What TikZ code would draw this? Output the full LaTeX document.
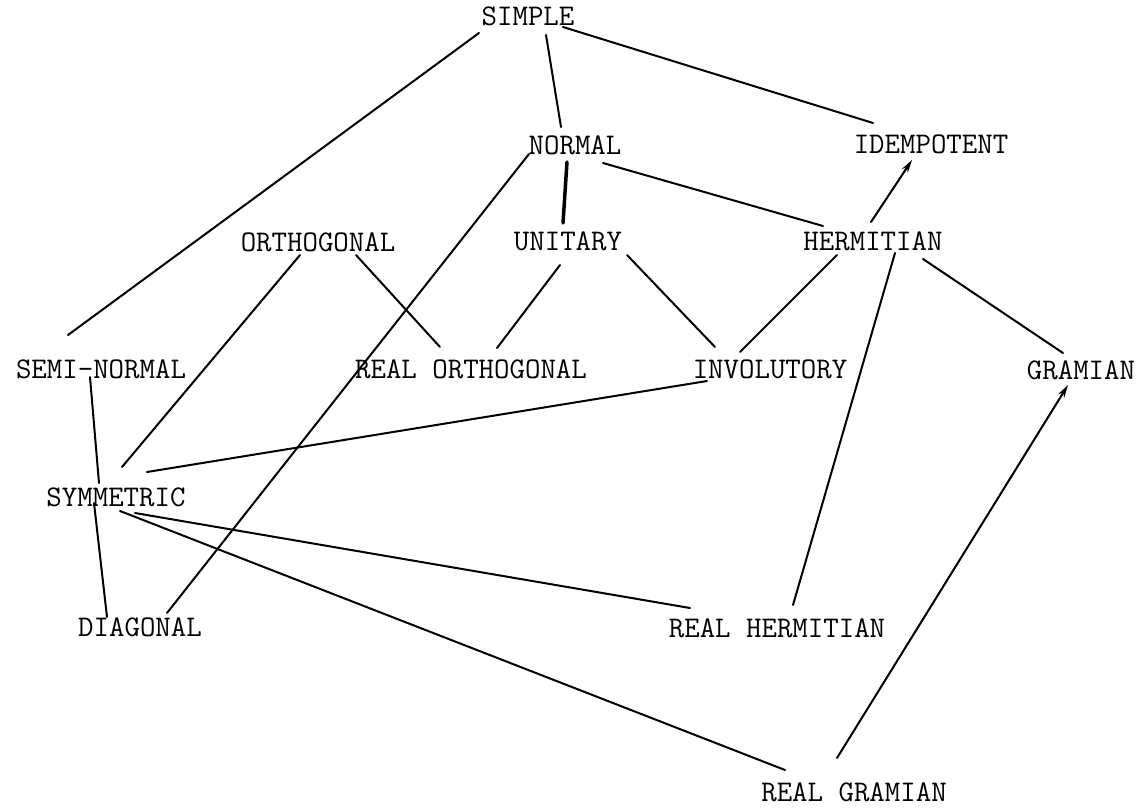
\documentclass[tikz,border=0pt]{standalone}
\usetikzlibrary{arrows.meta}
\begin{document}
\begin{tikzpicture}[x=1pt,y=-1pt,
  lbl/.style={inner sep=0pt,font=\ttfamily\fontsize{30}{36}\selectfont},
  link/.style={line width=2pt,line cap=round},
  heavy/.style={line width=3.5pt,line cap=round},
  arr/.style={link,-{Stealth[length=13pt,width=7pt]}}]
\useasboundingbox (0,0) rectangle (1142,808);
\node[lbl] (simple)   at (528,16)  {SIMPLE};
\node[lbl] (normal)   at (575,145) {NORMAL};
\node[lbl] (idem)     at (931,144) {IDEMPOTENT};
\node[lbl] (orth)     at (318,242) {ORTHOGONAL};
\node[lbl] (unit)     at (568,241) {UNITARY};
\node[lbl] (herm)     at (873,241) {HERMITIAN};
\node[lbl] (semi)     at (101,369) {SEMI-NORMAL};
\node[lbl] (realorth) at (471,369) {REAL ORTHOGONAL};
\node[lbl] (invol)    at (770,369) {INVOLUTORY};
\node[lbl] (gram)     at (1081,370) {GRAMIAN};
\node[lbl] (symm)     at (116,497) {SYMMETRIC};
\node[lbl] (diag)     at (140,627) {DIAGONAL};
\node[lbl] (realherm) at (777,628) {REAL HERMITIAN};
\node[lbl] (realgram) at (854,792) {REAL GRAMIAN};

\draw[link] ([shift={(-49,17)}]simple.center) -- ([shift={(-33,-34)}]semi.center);
\draw[link] ([shift={(18,19)}]simple.center) -- ([shift={(-14,-18)}]normal.center);
\draw[link] ([shift={(35,11)}]simple.center) -- ([shift={(-58,-21)}]idem.center);
\draw[heavy] ([shift={(-8,17)}]normal.center) -- ([shift={(-5,-18)}]unit.center);
\draw[link] ([shift={(28,18)}]normal.center) -- ([shift={(-50,-15)}]herm.center);
\draw[link] ([shift={(-46,9)}]normal.center) -- ([shift={(27,-14)}]diag.center);
\draw[arr] ([shift={(-2,-19)}]herm.center) -- ([shift={(-19,16)}]idem.center);
\draw[link] ([shift={(38,13)}]orth.center) -- ([shift={(-31,-22)}]realorth.center);
\draw[link] ([shift={(-18,13)}]orth.center) -- ([shift={(6,-30)}]symm.center);
\draw[link] ([shift={(-8,24)}]unit.center) -- ([shift={(26,-21)}]realorth.center);
\draw[link] ([shift={(59,14)}]unit.center) -- ([shift={(-55,-22)}]invol.center);
\draw[link] ([shift={(-36,14)}]herm.center) -- ([shift={(-30,-17)}]invol.center);
\draw[link] ([shift={(22,12)}]herm.center) -- ([shift={(16,-23)}]realherm.center);
\draw[link] ([shift={(50,18)}]herm.center) -- ([shift={(-18,-17)}]gram.center);
\draw[arr] ([shift={(-17,-34)}]realgram.center) -- ([shift={(-13,15)}]gram.center);
\draw[link] ([shift={(-11,8)}]semi.center) -- ([shift={(-17,-14)}]symm.center);
\draw[link] ([shift={(-22,6)}]symm.center) -- ([shift={(-33,-10)}]diag.center);
\draw[link] ([shift={(-63,12)}]invol.center) -- ([shift={(31,-25)}]symm.center);
\draw[link] ([shift={(19,16)}]symm.center) -- ([shift={(-87,-20)}]realherm.center);
\draw[link] ([shift={(4,14)}]symm.center) -- ([shift={(-69,-22)}]realgram.center);
\end{tikzpicture}
\end{document}
